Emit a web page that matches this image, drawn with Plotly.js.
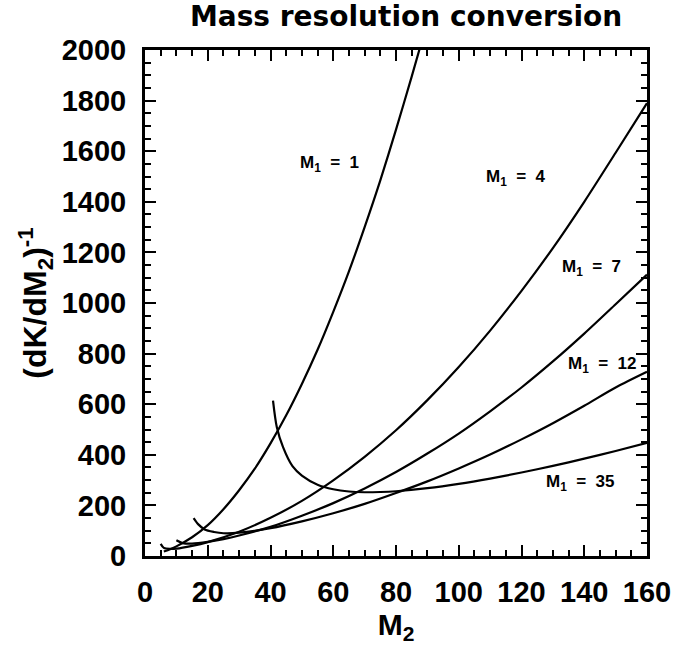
<!DOCTYPE html>
<html>
<head>
<meta charset="utf-8">
<script src="https://cdn.plot.ly/plotly-3.0.1.min.js"></script>
<style>html,body{margin:0;padding:0;background:#fff;}#chart{width:685px;height:645px;}</style>
</head>
<body>
<div id="chart"></div>
<script>
// M2 values and (dK/dM2)^-1, one pair of arrays per M1 curve
const m2_M1_1  = [6, 8, 10, 15, 20, 25, 30, 35, 40, 45, 50, 55, 60, 65, 70, 75, 80, 85, 88];
const val_M1_1 = [18, 27, 38, 74, 122, 185, 260, 345, 445, 556, 680, 815, 965, 1125, 1300, 1485, 1685, 1895, 2025];

const m2_M1_4  = [5, 6, 8, 10, 15, 20, 30, 40, 50, 60, 70, 80, 90, 100, 110, 120, 130, 140, 150, 160];
const val_M1_4 = [48, 32, 28, 29, 40, 55, 96, 151, 218, 299, 392, 497, 616, 747, 891, 1048, 1217, 1400, 1594, 1790];

const m2_M1_7  = [10, 12, 15, 20, 25, 30, 40, 50, 60, 70, 80, 90, 100, 110, 120, 130, 140, 150, 160];
const val_M1_7 = [62, 51, 49, 56, 67, 81, 115, 159, 209, 267, 332, 405, 484, 572, 666, 769, 879, 995, 1112];

const m2_M1_12  = [15.5, 17, 19, 22, 25, 30, 40, 50, 60, 70, 80, 90, 100, 110, 120, 130, 140, 150, 160];
const val_M1_12 = [150, 125, 105, 95, 90, 92, 110, 137, 169, 206, 249, 295, 346, 401, 461, 525, 594, 666, 728];

const m2_M1_35  = [40.8, 42, 44, 47, 50, 55, 60, 65, 70, 75, 80, 90, 100, 110, 120, 130, 140, 150, 160];
const val_M1_35 = [614, 510, 430, 355, 318, 282, 264, 255, 252, 253, 256, 268, 285, 306, 330, 356, 385, 415, 447];

const curveLabels = ["M<sub>1</sub> \u00a0= \u00a01", "M<sub>1</sub> \u00a0= \u00a04", "M<sub>1</sub> \u00a0= \u00a07", "M<sub>1</sub> \u00a0= \u00a012", "M<sub>1</sub> \u00a0= \u00a035"];
const labelX = [58.7, 118.4, 142.2, 145.7, 138.7];
const labelY = [1550, 1494, 1138, 755, 289];

const xTicks = [0, 20, 40, 60, 80, 100, 120, 140, 160];
const yTicks = [0, 200, 400, 600, 800, 1000, 1200, 1400, 1600, 1800, 2000];

const series = [
  [m2_M1_1, val_M1_1], [m2_M1_4, val_M1_4], [m2_M1_7, val_M1_7],
  [m2_M1_12, val_M1_12], [m2_M1_35, val_M1_35]
];

const traces = series.map((s, i) => ({
  x: s[0], y: s[1], type: 'scatter', mode: 'lines',
  line: {color: '#000', width: 2.2, shape: 'spline', smoothing: 0.8},
  name: 'M1 curve ' + i, showlegend: false, hoverinfo: 'skip'
}));

const bold = {family: 'Liberation Sans, Arial, sans-serif', color: '#000', weight: 'bold'};

const annotations = curveLabels.map((t, i) => ({
  x: labelX[i], y: labelY[i], xref: 'x', yref: 'y', text: t, showarrow: false,
  font: Object.assign({}, bold, {size: 17}), xanchor: 'center', yanchor: 'middle'
}));

const layout = {
  width: 685, height: 645,
  paper_bgcolor: '#fff', plot_bgcolor: '#fff',
  margin: {l: 145, r: 38, t: 50, b: 89},
  title: {text: 'Mass resolution conversion', x: 0.52, xref: 'paper', y: 0.975, yanchor: 'middle',
          font: {family: 'DejaVu Sans, sans-serif', size: 28, weight: 'bold', color: '#000'}},
  xaxis: {
    range: [0, 160], tickvals: xTicks, ticktext: xTicks.map(String),
    ticks: 'inside', ticklen: 11, tickwidth: 2, tickcolor: '#000',
    minor: {dtick: 5, tick0: 0, ticks: 'inside', ticklen: 6, tickwidth: 2, tickcolor: '#000'},
    showline: true, linewidth: 3, linecolor: '#000', mirror: 'ticks',
    showgrid: false, zeroline: false,
    tickfont: Object.assign({}, bold, {size: 29}), ticklabelstandoff: 8,
    title: {text: 'M<sub>2</sub>', font: Object.assign({}, bold, {size: 30}), standoff: 2}
  },
  yaxis: {
    range: [0, 2000], tickvals: yTicks, ticktext: yTicks.map(String),
    ticks: 'inside', ticklen: 11, tickwidth: 2, tickcolor: '#000',
    minor: {dtick: 50, tick0: 0, ticks: 'inside', ticklen: 6, tickwidth: 2, tickcolor: '#000'},
    showline: true, linewidth: 3, linecolor: '#000', mirror: 'ticks',
    showgrid: false, zeroline: false,
    tickfont: Object.assign({}, bold, {size: 29}), ticklabelstandoff: 10,
    title: {text: '(dK/dM<sub>2</sub>)<sup>-1</sup>', font: Object.assign({}, bold, {size: 32}), standoff: 6}
  },
  annotations: annotations
};

Plotly.newPlot('chart', traces, layout, {displayModeBar: false, staticPlot: true});
</script>
</body>
</html>
